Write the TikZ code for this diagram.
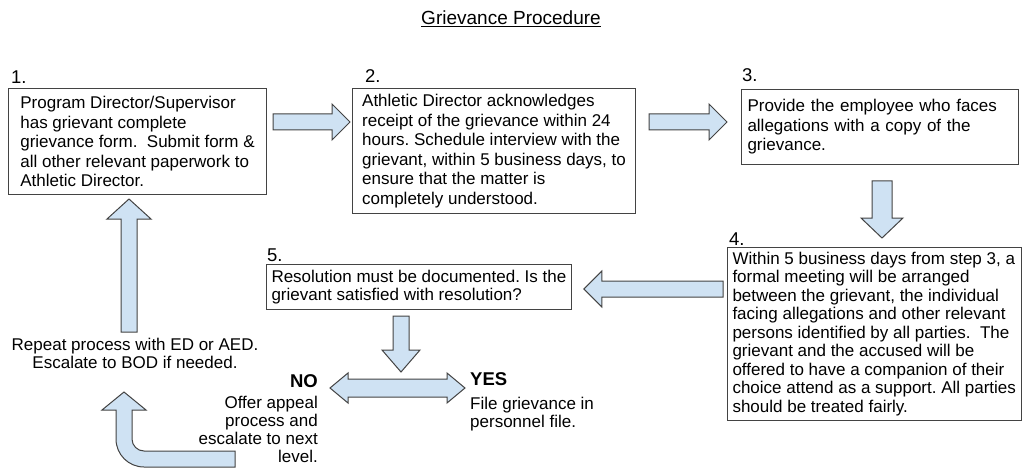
\documentclass[tikz,border=0pt]{standalone}
\usepackage{fontspec}
\setmainfont{Liberation Sans}
\usetikzlibrary{calc}
\frenchspacing
\definecolor{arrowblue}{HTML}{CFE2F3}
\definecolor{edgegray}{HTML}{434343}
% #1 tail, #2 tip, #3 half shaft, #4 half head, #5 head length
\newcommand{\blockarrow}[5]{%
  \coordinate (ba-b) at ($(#2)!#5pt!(#1)$);
  \draw[blockarrow] ($(#1)!#3pt!90:(#2)$) -- ($(ba-b)!#3pt!-90:(#1)$) -- ($(ba-b)!#4pt!-90:(#1)$) -- (#2)
    -- ($(ba-b)!#4pt!90:(#1)$) -- ($(ba-b)!#3pt!90:(#1)$) -- ($(#1)!#3pt!-90:(#2)$) -- cycle;}
\newcommand{\dblarrow}[5]{%
  \coordinate (da-a) at ($(#1)!#5pt!(#2)$);
  \coordinate (da-b) at ($(#2)!#5pt!(#1)$);
  \draw[blockarrow] (#1) -- ($(da-a)!#4pt!90:(#2)$) -- ($(da-a)!#3pt!90:(#2)$) -- ($(da-b)!#3pt!-90:(#1)$)
    -- ($(da-b)!#4pt!-90:(#1)$) -- (#2) -- ($(da-b)!#4pt!90:(#1)$) -- ($(da-b)!#3pt!90:(#1)$)
    -- ($(da-a)!#3pt!-90:(#2)$) -- ($(da-a)!#4pt!-90:(#2)$) -- cycle;}

\begin{document}
\begin{tikzpicture}[x=1pt,y=-1pt,
  stepbox/.style={draw=edgegray, line width=1pt, align=left, anchor=north west, inner xsep=5pt, inner ysep=0pt, font=\fontsize{17}{19.5}\selectfont},
  steplabel/.style={anchor=base west, inner sep=0pt, font=\fontsize{18.5}{20}\selectfont},
  plain/.style={inner sep=0pt, font=\fontsize{17}{18}\selectfont},
  answer/.style={inner sep=0pt, font=\fontsize{18.5}{20}\selectfont\bfseries},
  blockarrow/.style={draw=edgegray, fill=arrowblue, line width=1pt, line join=miter}]
\useasboundingbox (0,0) rectangle (1026,468);

\node[inner sep=0pt, anchor=base, font=\fontsize{19}{22}\selectfont] (title) at (511,25) {\underline{Grievance Procedure}};

\node[steplabel] (num1) at (11,84) {1.};
\node[steplabel] (num2) at (365,83) {2.};
\node[steplabel] (num3) at (742,82) {3.};
\node[steplabel] (num4) at (729,245) {4.};
\node[steplabel] (num5) at (267,261) {5.};

\node[stepbox, minimum width=258, minimum height=106] (step1) at (8,88)
  {Program Director/Supervisor\\has grievant complete\\grievance form.\ \ Submit form \&\\all other relevant paperwork to\\Athletic Director.};
\node[stepbox, minimum width=283, minimum height=125] (step2) at (352,88)
  {Athletic Director acknowledges\\receipt of the grievance within 24\\hours. Schedule interview with the\\grievant, within 5 business days, to\\ensure that the matter is\\completely understood.};
\node[stepbox, inner xsep=6pt, text width=265, minimum height=75] (step3) at (741,89)
  {Provide the employee who faces\\allegations with a copy of the\\grievance.};
\node[stepbox, minimum width=293, minimum height=173, font=\fontsize{17}{18.5}\selectfont] (step4) at (727,247)
  {Within 5 business days from step 3, a\\formal meeting will be arranged\\between the grievant, the individual\\facing allegations and other relevant\\persons identified by all parties.\ \ The\\grievant and the accused will be\\offered to have a companion of their\\choice attend as a support. All parties\\should be treated fairly.};
\node[stepbox, minimum width=304, minimum height=45, font=\fontsize{17}{18.5}\selectfont] (step5) at (266,264)
  {Resolution must be documented. Is the\\grievant satisfied with resolution?};

\node[answer, anchor=base east] (no) at (318,387) {NO};
\node[plain, align=right, anchor=north east] (nodesc) at (318,396) {Offer appeal\\process and\\escalate to next\\level.};
\node[answer, anchor=base west] (yes) at (470,385) {YES};
\node[plain, align=left, anchor=north west] (yesdesc) at (470,397) {File grievance in\\personnel file.};
\node[plain, align=center, anchor=north] (repeat) at (135,338) {Repeat process with ED or AED.\\Escalate to BOD if needed.};

\coordinate (t12) at ($(step1.north east)+(6,34)$);
\coordinate (h12) at ($(step2.north west)+(-2,34)$);
\blockarrow{t12}{h12}{8}{18}{18}
\coordinate (t23) at ($(step2.north east)+(13,34)$);
\coordinate (h23) at ($(step3.north west)+(-14,33)$);
\blockarrow{t23}{h23}{8}{18}{18}
\coordinate (t34) at ($(step3.south)+(2,16)$);
\coordinate (h34) at ($(t34 |- step4.north)+(0,-9)$);
\blockarrow{t34}{h34}{10}{21}{20}
\coordinate (t45) at ($(step4.north west)+(-4,42)$);
\coordinate (h45) at ($(step5.east |- t45)+(12,0)$);
\blockarrow{t45}{h45}{8}{18}{18}
\coordinate (t5) at ($(step5.south west)+(135,6)$);
\coordinate (h5) at (t5 |- 0,372);
\blockarrow{t5}{h5}{8}{19}{22}
\coordinate (dl) at ($(no.base east)+(12,1)$);
\coordinate (dr) at ($(yes.base west)+(-5,3)$);
\dblarrow{dl}{dr}{9}{15}{18}
\coordinate (tup) at ($(repeat.north)+(-6,-6)$);
\coordinate (hup) at ($(tup |- step1.south)+(0,4)$);
\blockarrow{tup}{hup}{8}{22}{20}

\draw[blockarrow] (235,451) -- (144,451) .. controls (137.4,451) and (132,445.6) .. (132,439) -- (132,410) -- (146,410) -- (124,392)
  -- (102,410) -- (116,410) -- (116,439) .. controls (116,454.5) and (128.5,467) .. (144,467) -- (235,467) -- cycle;
\end{tikzpicture}
\end{document}
